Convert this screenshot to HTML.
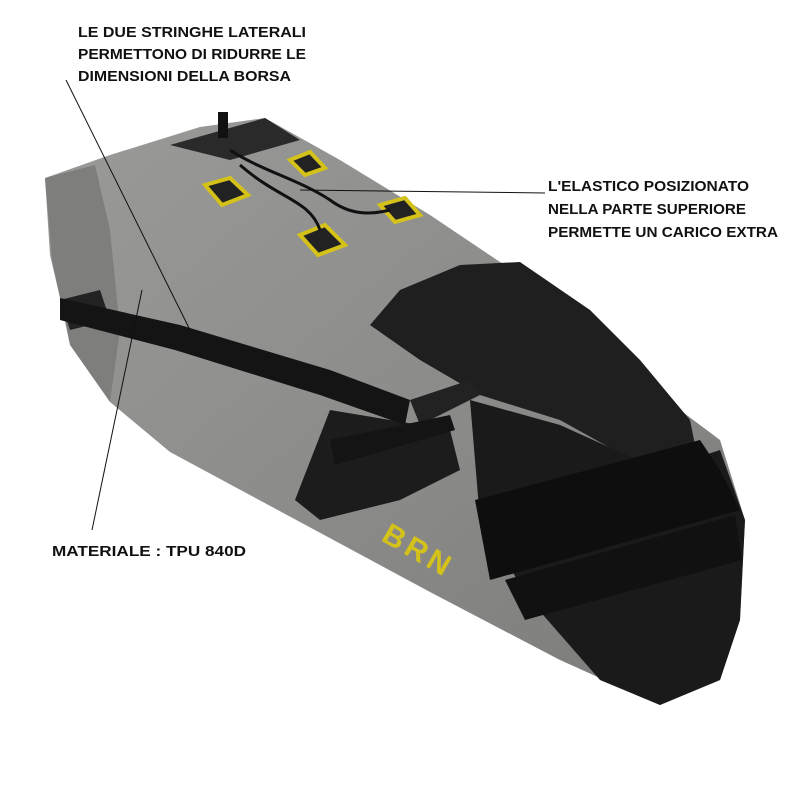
<!DOCTYPE html>
<html><head><meta charset="utf-8"><style>
html,body{margin:0;padding:0;background:#fff;}
.t{font-family:"Liberation Sans",sans-serif;font-weight:bold;font-size:15px;fill:#111;}
</style></head><body>
<svg width="800" height="800" viewBox="0 0 800 800" xmlns="http://www.w3.org/2000/svg">
<defs>
<linearGradient id="g" x1="0" y1="0" x2="1" y2="1">
<stop offset="0" stop-color="#9a9a98"/><stop offset="0.5" stop-color="#8c8c8a"/><stop offset="1" stop-color="#7a7a78"/>
</linearGradient>
</defs>
<path d="M45,178 L110,155 L200,127 L265,118 L340,160 L430,215 L500,262 L560,292 L640,380 L720,440 L745,520 L740,620 L720,680 L660,705 L560,660 L430,592 L300,522 L170,452 L110,402 L70,340 L50,255 Z" fill="url(#g)"/>
<path d="M45,178 L95,165 L110,230 L120,330 L110,402 L70,345 L52,260 Z" fill="#7e7e7c"/>
<path d="M60,300 L100,290 L110,320 L70,330 Z" fill="#222"/>
<path d="M370,325 L400,290 L460,265 L520,262 L590,310 L640,360 L690,420 L700,470 L650,470 L560,420 L480,395 L420,360 Z" fill="#1f1f1f"/>
<path d="M470,400 L560,425 L660,470 L720,450 L745,520 L740,620 L720,680 L660,705 L600,680 L530,600 L480,520 Z" fill="#1a1a1a"/>
<path d="M330,410 L450,430 L460,470 L400,500 L320,520 L295,500 Z" fill="#1c1c1c"/>
<path d="M475,500 L700,440 L720,470 L740,510 L490,580 Z" fill="#0e0e0e"/>
<path d="M505,580 L735,515 L742,560 L525,620 Z" fill="#111"/>
<path d="M60,298 L180,325 L330,370 L410,400 L405,425 L320,395 L175,350 L60,320 Z" fill="#141414"/>
<path d="M410,400 L470,380 L480,395 L420,425 Z" fill="#222"/>
<path d="M330,440 L450,415 L455,430 L335,465 Z" fill="#141414"/>
<path d="M170,145 L265,118 L300,140 L230,160 Z" fill="#2a2a2a"/>
<g fill="#222" stroke="#d4c21a" stroke-width="4">
<path d="M205,185 L230,178 L248,195 L222,205 Z"/>
<path d="M300,235 L325,225 L345,245 L318,255 Z"/>
<path d="M290,160 L310,152 L325,168 L305,175 Z"/>
<path d="M380,205 L405,198 L420,215 L395,222 Z"/>
</g>
<path d="M230,150 C260,170 300,180 330,200 C350,215 370,215 390,210" stroke="#111" stroke-width="3" fill="none"/>
<path d="M240,165 C280,200 310,200 320,230" stroke="#111" stroke-width="3" fill="none"/>
<rect x="218" y="112" width="10" height="26" fill="#111"/>
<text x="380" y="540" transform="rotate(30 380 540)" font-family="Liberation Sans,sans-serif" font-weight="bold" font-size="30" fill="#d4c21a" letter-spacing="4">BRN</text>
<line x1="66" y1="80" x2="190" y2="330" stroke="#111" stroke-width="1"/>
<line x1="545" y1="193" x2="300" y2="190" stroke="#111" stroke-width="1"/>
<line x1="92" y1="530" x2="142" y2="290" stroke="#111" stroke-width="1"/>
<text class="t" x="78" y="37" textLength="228" lengthAdjust="spacingAndGlyphs">LE DUE STRINGHE LATERALI</text>
<text class="t" x="78" y="59" textLength="228" lengthAdjust="spacingAndGlyphs">PERMETTONO DI RIDURRE LE</text>
<text class="t" x="78" y="81" textLength="213" lengthAdjust="spacingAndGlyphs">DIMENSIONI DELLA BORSA</text>
<text class="t" x="548" y="191" textLength="201" lengthAdjust="spacingAndGlyphs">L'ELASTICO POSIZIONATO</text>
<text class="t" x="548" y="214" textLength="198" lengthAdjust="spacingAndGlyphs">NELLA PARTE SUPERIORE</text>
<text class="t" x="548" y="237" textLength="230" lengthAdjust="spacingAndGlyphs">PERMETTE UN CARICO EXTRA</text>
<text class="t" x="52" y="556" textLength="194" lengthAdjust="spacingAndGlyphs">MATERIALE : TPU 840D</text>
</svg>
</body></html>
